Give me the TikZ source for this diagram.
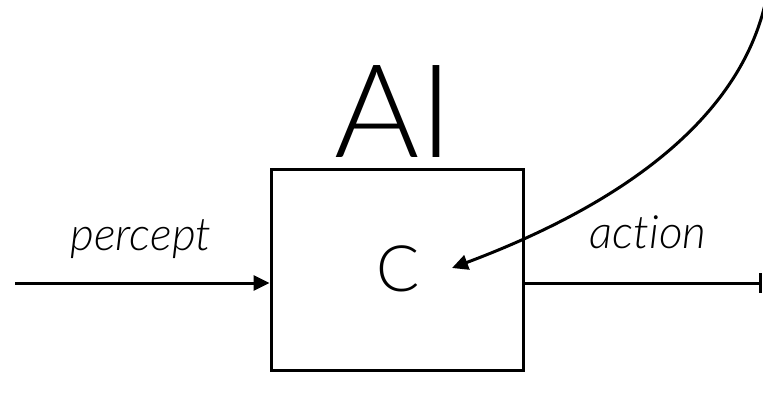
\documentclass[tikz,border=0pt]{standalone}
\usepackage{fontspec}
\setmainfont{Lato}
\newfontfamily\lightfont[Ligatures={NoCommon}]{Lato Light}
\usetikzlibrary{arrows.meta}
\begin{document}
\begin{tikzpicture}[x=1pt,y=-1pt,
  conn/.style={line width=3pt},
  tip/.style={-{Triangle[length=16pt,width=15pt]}},
  lbl/.style={font=\lightfont\fontsize{46}{50}\selectfont\itshape, inner sep=0pt, anchor=base}]
\useasboundingbox (0,0) rectangle (763,396);
\node[draw, line width=3pt, minimum width=252pt, minimum height=201pt, inner sep=0pt] (box) at (397,269.5) {};
\node[inner sep=0pt, font=\lightfont\fontsize{64}{70}\selectfont] (c) at (398,269) {C};
\node[inner sep=0pt, font=\lightfont\fontsize{130}{140}\selectfont] (ai) at (394,112) {AI};
\node[lbl] (pl) at (141,250) {percept};
\node[lbl] (al) at (648,248) {action};
\coordinate (in) at (15,283);
\coordinate (out) at (762,283);
\coordinate (top) at (766,0);
\coordinate (tgt) at (452,268);
\draw[conn, tip] (in) -- (box.west |- in);
\draw[conn, -{Bar[width=20pt]}] (box.east |- out) -- (out);
\draw[conn, tip] (top) .. controls (740,120) and (620,205) .. (tgt);
\end{tikzpicture}
\end{document}
